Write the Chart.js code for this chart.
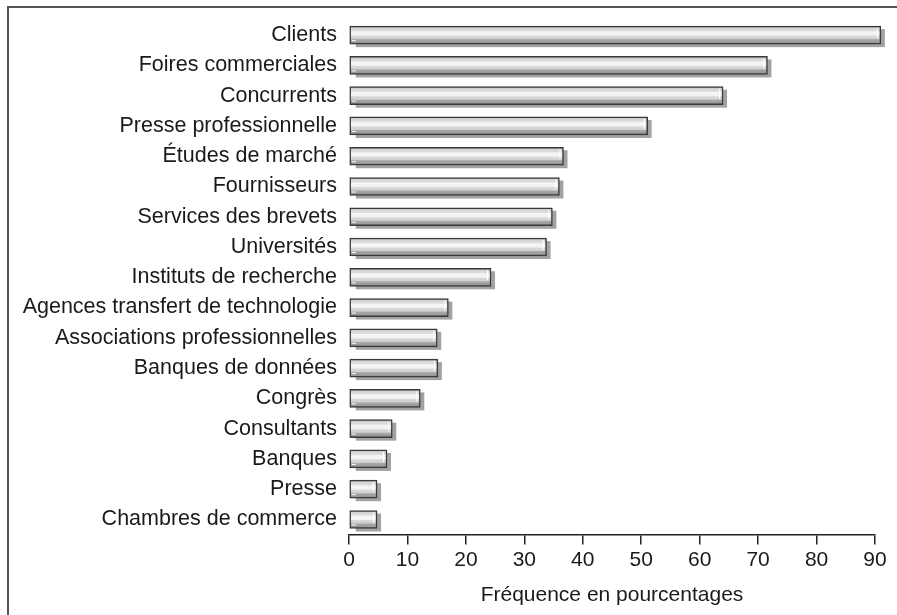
<!DOCTYPE html>
<html>
<head>
<meta charset="utf-8">
<script src="https://cdn.jsdelivr.net/npm/chart.js@4/dist/chart.umd.min.js"></script>
<style>
    html, body { margin: 0; padding: 0; background: #fff; overflow: hidden; }
    #wrap { position: relative; width: 897px; height: 615px; }
    #frame { position: absolute; left: 7px; top: 6px; width: 900px; height: 620px;
             border-left: 2px solid #555; border-top: 2px solid #555; pointer-events: none; }
</style>
</head>
<body>
<div id="wrap">
    <canvas id="SourcesChart" width="897" height="615"></canvas>
    <div id="frame"></div>
</div>
<script>
var NameSource = ['Clients', 'Foires commerciales', 'Concurrents', 'Presse professionnelle',
    'Études de marché', 'Fournisseurs', 'Services des brevets', 'Universités',
    'Instituts de recherche', 'Agences transfert de technologie', 'Associations professionnelles',
    'Banques de données', 'Congrès', 'Consultants', 'Banques', 'Presse', 'Chambres de commerce']
var Frequency = [91, 71.6, 64, 51.1, 36.7, 36, 34.8, 33.8, 24.3, 17, 15.1, 15.2, 12.2, 7.4, 6.5, 4.8, 4.8]
var TickValues = [0, 10, 20, 30, 40, 50, 60, 70, 80, 90]

var BAR_H = 18

// grey shadow behind every bar, offset down-right, plus small white highlights
var barShadow = {
    id: 'barShadow',
    beforeDatasetsDraw: function (chart) {
        var ctx = chart.ctx
        var meta = chart.getDatasetMeta(0)
        ctx.save()
        ctx.fillStyle = '#a2a2a2'
        meta.data.forEach(function (bar) {
            var p = bar.getProps(['x', 'y', 'base', 'height'], true)
            ctx.fillRect(p.base + 6, p.y - p.height / 2 + 3, p.x - p.base - 2, p.height)
        })
        ctx.restore()
    },
    afterDatasetsDraw: function (chart) {
        var ctx = chart.ctx
        var meta = chart.getDatasetMeta(0)
        ctx.save()
        ctx.strokeStyle = '#ffffff'
        ctx.lineWidth = 1
        meta.data.forEach(function (bar) {
            var p = bar.getProps(['x', 'y', 'base', 'height'], true)
            var top = p.y - p.height / 2
            var bot = p.y + p.height / 2
            ctx.beginPath()
            ctx.moveTo(p.x - 3.5, top + 2)
            ctx.lineTo(p.x - 3.5, bot - 6)
            ctx.moveTo(p.base + 2, bot - 3.5)
            ctx.lineTo(p.base + 6, bot - 3.5)
            ctx.stroke()
        })
        ctx.restore()
    }
}

function barGradient(context) {
    var chart = context.chart
    var yScale = chart.scales.y
    if (!yScale || context.dataIndex === undefined) return '#d0d0d0'
    var c = yScale.getPixelForValue(context.dataIndex)
    if (!isFinite(c)) return '#d0d0d0'
    var g = chart.ctx.createLinearGradient(0, c - BAR_H / 2, 0, c + BAR_H / 2)
    g.addColorStop(0, '#b8b8b8')
    g.addColorStop(0.12, '#d4d4d4')
    g.addColorStop(0.25, '#dedede')
    g.addColorStop(0.33, '#f6f6f6')
    g.addColorStop(0.5, '#f2f2f2')
    g.addColorStop(0.56, '#d8d8d8')
    g.addColorStop(0.7, '#d0d0d0')
    g.addColorStop(0.75, '#a8a8a8')
    g.addColorStop(1, '#909090')
    return g
}

var config_Sources = {
    type: 'bar',
    data: {
        labels: NameSource,
        datasets: [{
            label: 'Fréquence',
            data: Frequency,
            backgroundColor: barGradient,
            borderColor: '#3a3a3a',
            borderWidth: 1.5,
            borderSkipped: false,
            barThickness: BAR_H,
            clip: false,
        }],
    },
    plugins: [barShadow],
    options: {
        indexAxis: 'y',
        responsive: false,
        animation: false,
        layout: {
            padding: { top: 20, right: 22, bottom: 7, left: 0 }
        },
        plugins: {
            legend: { display: false },
            tooltip: { enabled: false },
        },
        scales: {
            y: {
                grid: { display: false, drawTicks: false },
                border: { display: false },
                ticks: {
                    color: '#1a1a1a',
                    padding: 12,
                    font: { family: 'Liberation Sans, Arial, sans-serif', size: 21.5 },
                },
                afterFit: function (scale) {
                    scale.width = 349
                    scale.paddingTop = 0
                    scale.paddingBottom = 0
                },
            },
            x: {
                min: 0,
                max: 90,
                afterBuildTicks: function (scale) {
                    scale.ticks = TickValues.map(function (v) { return { value: v } })
                },
                grid: {
                    drawOnChartArea: false,
                    drawTicks: true,
                    tickLength: 10,
                    color: '#222',
                    lineWidth: 1.5,
                },
                border: { display: true, color: '#222', width: 1.5 },
                ticks: {
                    color: '#1a1a1a',
                    padding: 3,
                    maxRotation: 0,
                    font: { family: 'Liberation Sans, Arial, sans-serif', size: 21 },
                },
                title: {
                    display: true,
                    text: 'Fréquence en pourcentages',
                    color: '#1a1a1a',
                    padding: { top: 7, bottom: 0 },
                    font: { family: 'Liberation Sans, Arial, sans-serif', size: 21 },
                },
            },
        },
    },
}

var SourcesChartElement = document.getElementById('SourcesChart').getContext('2d')
new Chart(SourcesChartElement, config_Sources)
</script>
</body>
</html>
